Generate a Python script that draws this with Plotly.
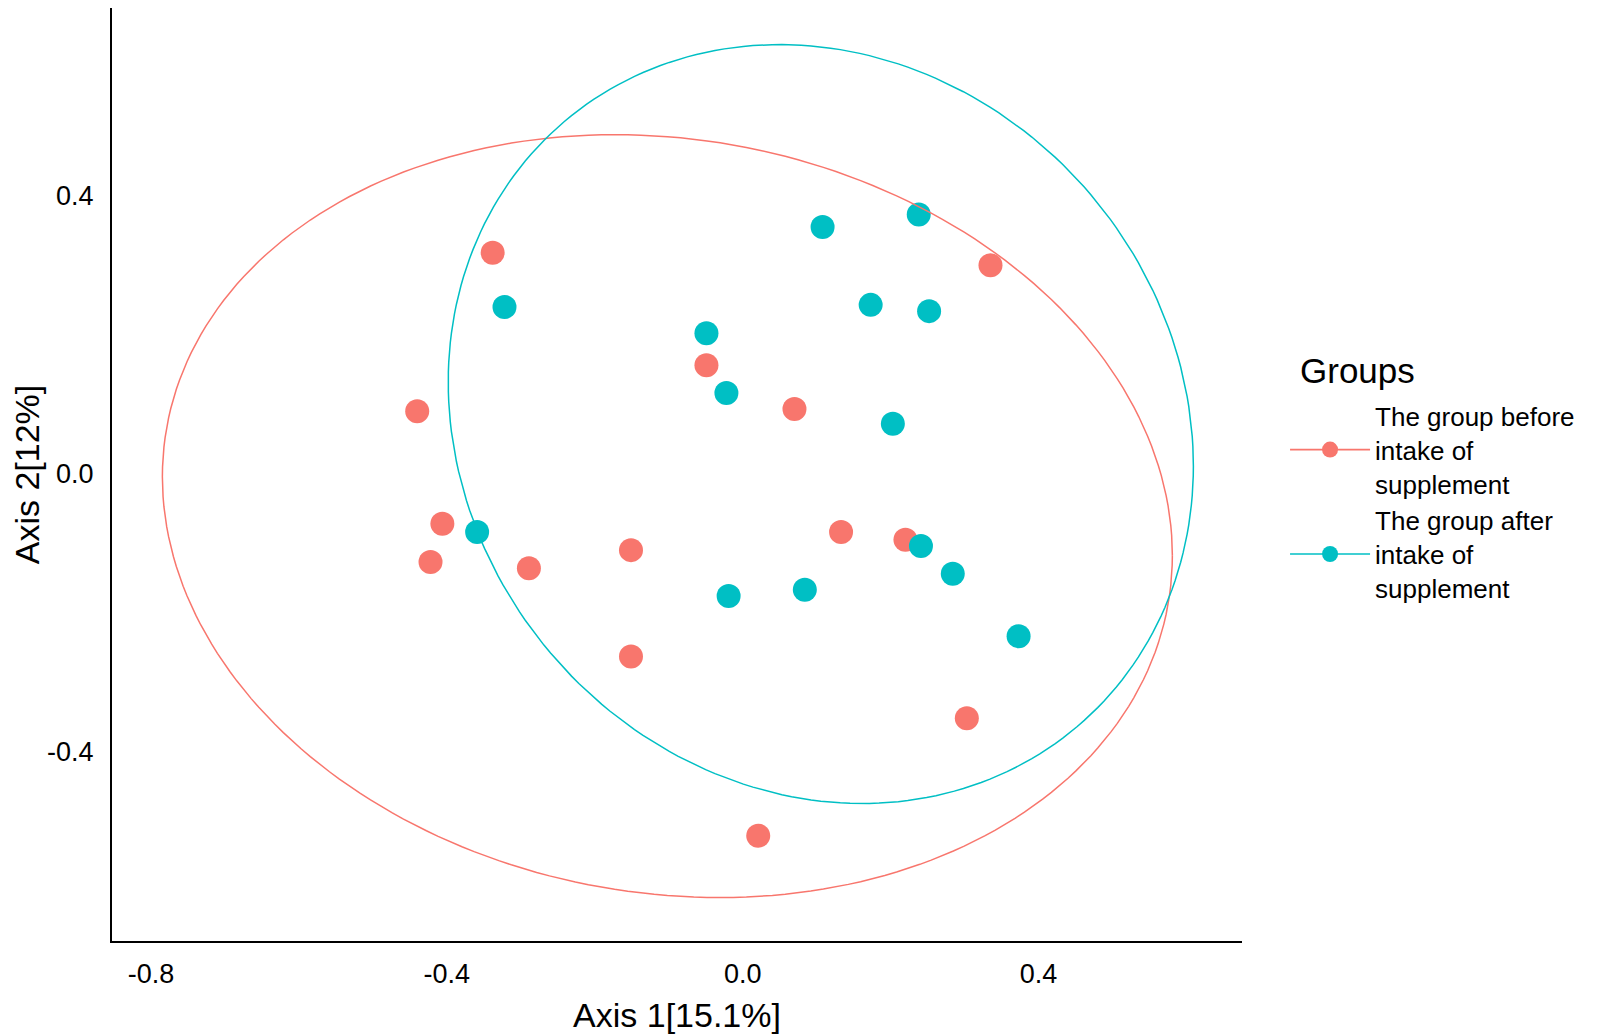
import numpy as np
import plotly.graph_objects as go

# PCoA coordinates
before_x = [-0.338, 0.335, -0.440, -0.049, 0.070, -0.406, -0.422,
            -0.289, -0.151, 0.133, 0.220, -0.151, 0.303, 0.021]
before_y = [0.318, 0.300, 0.090, 0.156, 0.093, -0.072, -0.127,
            -0.136, -0.110, -0.084, -0.095, -0.263, -0.352, -0.521]

after_x = [0.108, 0.238, -0.322, 0.173, 0.252, -0.049, -0.022,
           0.203, -0.359, 0.241, 0.284, -0.019, 0.084, 0.373]
after_y = [0.355, 0.373, 0.240, 0.243, 0.234, 0.202, 0.116,
           0.072, -0.084, -0.104, -0.144, -0.176, -0.167, -0.234]

group_names = ["The group before<br>intake of<br>supplement",
               "The group after<br>intake of<br>supplement"]
group_colors = ["#F8766D", "#00BFC4"]

x_ticks = [-0.8, -0.4, 0.0, 0.4]
y_ticks = [-0.4, 0.0, 0.4]


def cov_trob(xy, nu=5, maxit=25, tol=0.01):
    # port of MASS::cov.trob, which ggplot2::stat_ellipse uses
    n, p = xy.shape
    wt = np.ones(n)
    loc = xy.mean(axis=0)
    w = np.sqrt(wt)
    X = xy - loc
    for _ in range(maxit):
        w0 = w
        X = xy - loc
        _, d, vt = np.linalg.svd(np.sqrt(w / w.sum())[:, None] * X, full_matrices=False)
        wX = X @ vt.T @ np.diag(1 / d)
        Q = (wX ** 2).sum(axis=1)
        w = (wt * (nu + p)) / (nu + Q)
        loc = (w[:, None] * xy).sum(axis=0) / w.sum()
        if np.all(np.abs(w - w0) < tol):
            break
    sX = np.sqrt(w)[:, None] * X
    return sX.T @ sX / wt.sum(), loc


def stat_ellipse(x, y, level=0.95, segments=240):
    xy = np.column_stack([x, y])
    shape, center = cov_trob(xy)
    dfd = len(x) - 1
    # F quantile with 2 numerator df has a closed form
    f = dfd / 2 * ((1 - level) ** (-2 / dfd) - 1)
    radius = np.sqrt(2 * f)
    ang = np.arange(segments + 1) * 2 * np.pi / segments
    circle = np.column_stack([np.cos(ang), np.sin(ang)])
    chol = np.linalg.cholesky(shape).T
    ell = center + radius * circle @ chol
    return ell[:, 0], ell[:, 1]


groups = [(before_x, before_y), (after_x, after_y)]

fig = go.Figure()

for (gx, gy), col in zip(groups, group_colors):
    fig.add_trace(go.Scatter(
        x=gx, y=gy, mode="markers",
        marker=dict(size=24, color=col),
        showlegend=False, hoverinfo="skip",
    ))

for (gx, gy), col in zip(groups, group_colors):
    ex, ey = stat_ellipse(np.array(gx), np.array(gy))
    fig.add_trace(go.Scatter(
        x=ex, y=ey, mode="lines",
        line=dict(color=col, width=1.5),
        showlegend=False, hoverinfo="skip",
    ))

# legend keys: point + path, like ggplot
for name, col in zip(group_names, group_colors):
    fig.add_trace(go.Scatter(
        x=[None], y=[None], mode="lines+markers", name=name,
        marker=dict(size=23, color=col),
        line=dict(color=col, width=1.6),
    ))

font_family = "Liberation Sans, Arial, sans-serif"

fig.update_xaxes(
    range=[-0.8526, 0.675],
    tickvals=x_ticks,
    ticktext=[f"{v:.1f}" for v in x_ticks],
    showgrid=False, zeroline=False, automargin=False,
    showline=True, linecolor="black", linewidth=2,
    ticks="", ticklabelstandoff=8,
    tickfont=dict(size=27, color="black"),
    title=dict(text="Axis 1[15.1%]", font=dict(size=34, color="black"), standoff=15),
)
fig.update_yaxes(
    range=[-0.6726, 0.6703],
    tickvals=y_ticks,
    ticktext=[f"{v:.1f}" for v in y_ticks],
    showgrid=False, zeroline=False, automargin=False,
    showline=True, linecolor="black", linewidth=2,
    ticks="", ticklabelstandoff=11,
    tickfont=dict(size=27, color="black"),
    title=dict(text="Axis 2[12%]", font=dict(size=34, color="black"), standoff=20),
)

# legend heading placed on its own so the keys can sit where ggplot put them
fig.add_annotation(
    text="Groups", xref="paper", yref="paper",
    x=1.0493, y=0.611, xanchor="left", yanchor="middle",
    showarrow=False, font=dict(size=35, color="black"),
)

fig.update_layout(
    width=1592,
    height=1027,
    margin=dict(l=104, r=358, t=0, b=94),
    plot_bgcolor="white",
    paper_bgcolor="white",
    font=dict(family=font_family, color="black"),
    legend=dict(
        font=dict(size=26),
        x=1.0381, xanchor="left",
        y=0.588, yanchor="top",
        itemwidth=80,
        tracegroupgap=0,
    ),
)

fig.write_html("out.html")
